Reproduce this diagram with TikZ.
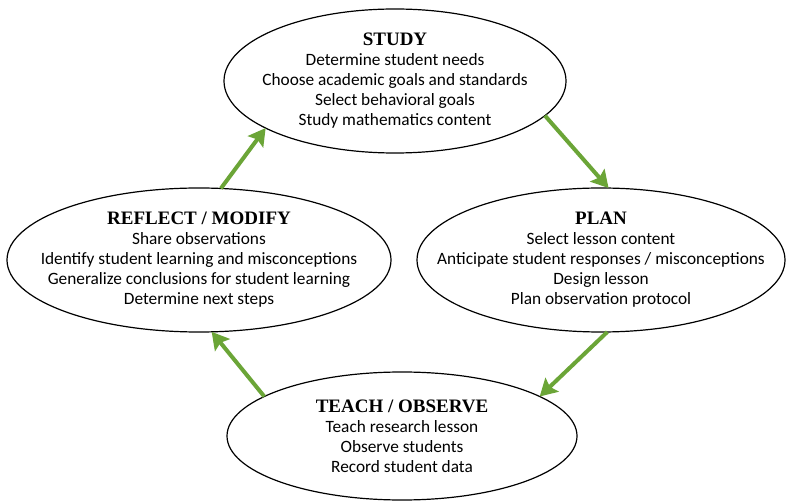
\documentclass[tikz,border=0pt]{standalone}
\usepackage{fontspec}
\setmainfont{Carlito}
\newfontfamily\titlefont{Liberation Serif}
\usetikzlibrary{shapes.geometric,arrows.meta}
\definecolor{arrowgreen}{HTML}{6BA537}
\tikzset{
  phase/.style={ellipse, draw=black, line width=1.2pt, inner sep=0pt, outer sep=0pt},
  phasetext/.style={align=center, font=\fontsize{17.3}{20}\selectfont, inner sep=0pt},
  flow/.style={draw=arrowgreen, line width=4pt, -{Stealth[length=17pt,width=19pt,inset=3pt]}, shorten <=0pt, shorten >=0pt}
}
\newcommand{\phtitle}[1]{{\titlefont\bfseries\fontsize{19}{20}\selectfont #1}}
\begin{document}
\begin{tikzpicture}[x=1pt,y=-1pt]
\useasboundingbox (0,0) rectangle (787,502);
\fill[white] (0,0) rectangle (787,502);
\node[phase, minimum width=342pt, minimum height=144pt] (study) at (395,81) {};
\node[phase, minimum width=368pt, minimum height=144pt] (plan) at (601,260) {};
\node[phase, minimum width=350pt, minimum height=128pt] (teach) at (402,436) {};
\node[phase, minimum width=384pt, minimum height=144pt] (reflect) at (199,260) {};

\node[phasetext] (studyt) at (study.center) {\phtitle{STUDY}\\Determine student needs\\Choose academic goals and standards\\Select behavioral goals\\Study mathematics content};
\node[phasetext] (plant) at (plan.center) {\phtitle{PLAN}\\Select lesson content\\Anticipate student responses / misconceptions\\Design lesson\\Plan observation protocol};
\node[phasetext] (teacht) at (teach.center) {\phtitle{TEACH / OBSERVE}\\Teach research lesson\\Observe students\\Record student data};
\node[phasetext] (reflectt) at (reflect.center) {\phtitle{REFLECT / MODIFY}\\Share observations\\Identify student learning and misconceptions\\Generalize conclusions for student learning\\Determine next steps};

\draw[flow] (study.-13.7) -- (plan.84.6);
\draw[flow] (plan.-85.4) -- (teach.16.8);
\draw[flow] (teach.164) -- (reflect.-80);
\draw[flow] (reflect.73) -- (study.-160.4);
\end{tikzpicture}
\end{document}
